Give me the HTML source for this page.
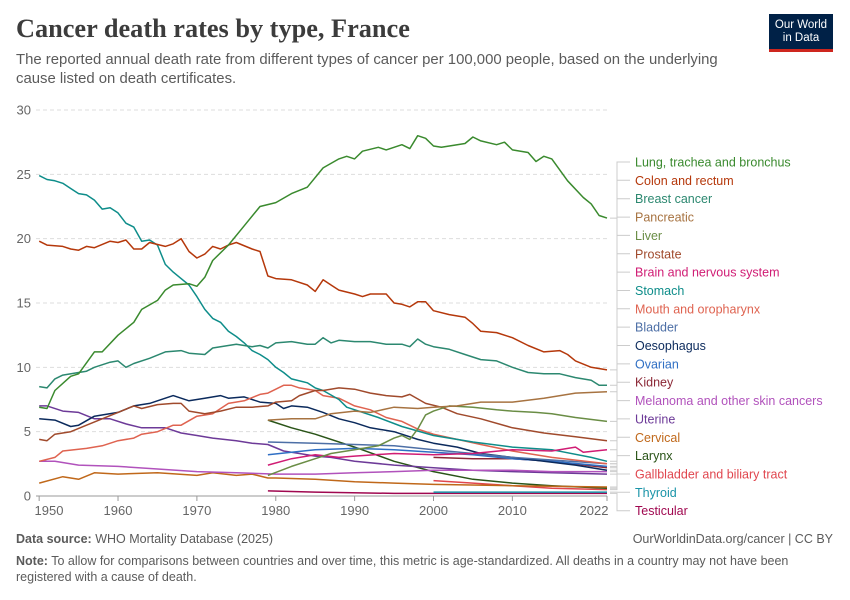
<!DOCTYPE html>
<html><head><meta charset="utf-8">
<style>
body{margin:0;background:#fff;font-family:"Liberation Sans",sans-serif;}
#wrap{position:relative;width:850px;height:600px;overflow:hidden;}
.t{position:absolute;white-space:nowrap;}
</style></head>
<body>
<div id="wrap">
<div class="t" style="left:16px;top:14px;font-family:'Liberation Serif',serif;font-size:26.3px;font-weight:bold;color:#3c3c3c;">Cancer death rates by type, France</div>
<div class="t" style="left:16px;top:51px;font-size:14.9px;line-height:19px;color:#5b5b5b;white-space:normal;width:730px;">The reported annual death rate from different types of cancer per 100,000 people, based on the underlying cause listed on death certificates.</div>
<div style="position:absolute;left:769px;top:14px;width:64px;height:38px;background:#002147;border-bottom:3px solid #ce261e;box-sizing:border-box;color:#fff;font-size:11.5px;line-height:13px;text-align:center;padding-top:5px;">Our World<br>in Data</div>
<svg id="chart" width="850" height="600" style="position:absolute;left:0;top:0;"></svg>
<div class="t" style="left:16px;top:532px;font-size:12.5px;color:#5b5b5b;"><b>Data source:</b> WHO Mortality Database (2025)</div>
<div class="t" style="right:17px;top:532px;font-size:12.5px;color:#5b5b5b;">OurWorldinData.org/cancer | CC BY</div>
<div class="t" style="left:16px;top:553px;width:800px;white-space:normal;font-size:12.5px;line-height:16px;color:#5b5b5b;"><b>Note:</b> To allow for comparisons between countries and over time, this metric is age-standardized. All deaths in a country may not have been registered with a cause of death.</div>
</div>
<script>
const yTicks=[0,5,10,15,20,25,30];
const xTicks=[1950,1960,1970,1980,1990,2000,2010,2022];
const seriesNames=["Lung, trachea and bronchus","Colon and rectum","Breast cancer","Pancreatic","Liver","Prostate","Brain and nervous system","Stomach","Mouth and oropharynx","Bladder","Oesophagus","Ovarian","Kidney","Melanoma and other skin cancers","Uterine","Cervical","Larynx","Gallbladder and biliary tract","Thyroid","Testicular"];
const seriesColors=["#3a8a2e","#b5380b","#2c8870","#a77341","#6a8d45","#a04a2c","#d01c74","#0e8d8a","#df6350","#4d6fa6","#0b2a5c","#2f6fc4","#8b2836","#b152bc","#6d3a98","#c0681a","#2a5418","#e0464e","#1a94a8","#a00850"];
const lung=[[1950,6.9],[1951,6.8],[1952,8.2],[1954,9.3],[1955,9.5],[1957,11.2],[1958,11.2],[1960,12.5],[1962,13.5],[1963,14.5],[1965,15.2],[1966,16],[1967,16.4],[1969,16.5],[1970,16.3],[1971,17],[1972,18.3],[1974,19.5],[1976,21],[1978,22.5],[1980,22.8],[1982,23.5],[1984,24],[1986,25.5],[1988,26.2],[1989,26.4],[1990,26.2],[1991,26.8],[1993,27.1],[1994,26.9],[1996,27.3],[1997,27.0],[1998,28.0],[1999,27.8],[2000,27.2],[2001,27.1],[2003,27.3],[2004,27.4],[2005,27.9],[2006,27.6],[2008,27.3],[2009,27.5],[2010,26.9],[2012,26.7],[2013,26.0],[2014,26.4],[2015,26.2],[2017,24.5],[2019,23.2],[2020,22.7],[2021,21.8],[2022,21.6]];
const colon=[[1950,19.8],[1951,19.5],[1953,19.4],[1954,19.2],[1955,19.1],[1956,19.4],[1957,19.3],[1959,19.8],[1960,19.7],[1961,19.9],[1962,19.2],[1963,19.2],[1964,19.7],[1966,19.4],[1967,19.6],[1968,20.0],[1969,19.0],[1970,18.5],[1971,18.8],[1972,19.4],[1973,19.2],[1974,19.5],[1975,19.7],[1977,19.2],[1978,19.0],[1979,17.1],[1980,16.9],[1982,16.8],[1984,16.4],[1985,15.9],[1986,16.8],[1987,16.4],[1988,16.0],[1990,15.7],[1991,15.5],[1992,15.7],[1994,15.7],[1995,15.0],[1996,14.9],[1997,14.7],[1998,15.1],[1999,15.1],[2000,14.4],[2002,14.1],[2004,13.9],[2005,13.4],[2006,12.8],[2008,12.7],[2010,12.3],[2012,11.7],[2014,11.2],[2016,11.3],[2017,11.0],[2018,10.5],[2020,10.0],[2022,9.8]];
const breast=[[1950,8.5],[1951,8.4],[1952,9.1],[1953,9.4],[1955,9.6],[1956,9.7],[1957,10.0],[1959,10.4],[1960,10.5],[1961,10.0],[1962,10.3],[1964,10.7],[1966,11.2],[1968,11.3],[1969,11.1],[1971,11.0],[1972,11.5],[1974,11.7],[1975,11.8],[1977,11.6],[1978,11.7],[1979,11.5],[1980,11.9],[1982,12.0],[1984,11.8],[1985,11.8],[1986,12.3],[1987,11.9],[1988,12.1],[1990,12.0],[1992,12.0],[1994,11.8],[1996,11.8],[1997,11.6],[1998,12.2],[1999,11.8],[2000,11.6],[2002,11.4],[2004,11.0],[2006,10.6],[2008,10.5],[2010,10.0],[2012,9.6],[2014,9.5],[2016,9.5],[2018,9.2],[2020,9.0],[2021,8.6],[2022,8.6]];
const pancreatic=[[1979,5.9],[1982,6.0],[1985,6.0],[1987,6.4],[1990,6.6],[1992,6.5],[1995,6.9],[1998,6.8],[2000,6.9],[2003,7.0],[2006,7.3],[2010,7.3],[2014,7.6],[2018,8.0],[2022,8.1]];
const liver=[[1979,1.6],[1982,2.3],[1985,2.9],[1987,3.3],[1990,3.6],[1993,3.9],[1995,4.5],[1996,4.7],[1997,4.4],[1998,5.2],[1999,6.3],[2000,6.6],[2002,7.0],[2005,6.9],[2008,6.7],[2010,6.6],[2013,6.5],[2015,6.4],[2018,6.1],[2022,5.8]];
const prostate=[[1950,4.4],[1951,4.3],[1952,4.8],[1954,5.0],[1956,5.5],[1958,6.0],[1960,6.5],[1962,7.0],[1963,6.8],[1965,7.1],[1967,7.2],[1968,7.2],[1969,6.6],[1971,6.4],[1973,6.6],[1975,6.9],[1977,6.9],[1979,7.0],[1980,7.3],[1982,7.4],[1983,7.8],[1985,8.2],[1986,8.2],[1988,8.4],[1990,8.3],[1992,8.0],[1994,7.8],[1996,7.7],[1997,7.9],[1999,7.2],[2001,6.9],[2003,6.4],[2006,6.0],[2010,5.3],[2014,4.9],[2018,4.6],[2022,4.3]];
const brain=[[1979,2.4],[1982,2.9],[1985,3.2],[1988,3.0],[1990,3.1],[1995,3.3],[2000,3.2],[2005,3.3],[2010,3.6],[2015,3.5],[2018,3.8],[2019,3.4],[2022,3.6]];
const stomach=[[1950,24.9],[1951,24.6],[1952,24.5],[1953,24.3],[1954,23.9],[1955,23.5],[1956,23.4],[1957,23.0],[1958,22.3],[1959,22.4],[1960,22.0],[1961,21.2],[1962,20.9],[1963,19.8],[1964,19.9],[1965,19.5],[1966,18.0],[1967,17.4],[1968,16.9],[1969,16.4],[1970,15.5],[1971,14.5],[1972,13.8],[1973,13.5],[1974,12.8],[1975,12.4],[1976,11.9],[1977,11.3],[1978,11.0],[1979,10.6],[1980,10.0],[1981,9.6],[1982,9.1],[1984,8.8],[1985,8.4],[1986,8.2],[1988,7.5],[1989,6.9],[1993,6.1],[1996,5.4],[2000,4.7],[2005,4.2],[2010,3.8],[2015,3.6],[2020,3.0],[2022,2.7]];
const mouth=[[1950,2.7],[1952,3.0],[1953,3.5],[1956,3.7],[1958,3.9],[1960,4.3],[1962,4.5],[1963,4.8],[1965,5.0],[1967,5.5],[1968,5.5],[1970,6.2],[1972,6.4],[1974,7.2],[1976,7.4],[1978,7.9],[1979,8.0],[1980,8.3],[1981,8.6],[1982,8.6],[1983,8.4],[1985,8.2],[1986,7.8],[1988,7.6],[1990,7.0],[1992,6.7],[1994,6.1],[1996,5.8],[1998,5.2],[2000,4.8],[2003,4.4],[2006,4.0],[2010,3.5],[2015,3.0],[2022,2.5]];
const bladder=[[1979,4.2],[1985,4.1],[1990,4.0],[1995,3.9],[2000,3.6],[2005,3.3],[2010,3.0],[2015,2.8],[2022,2.5]];
const oesophagus=[[1950,6.0],[1952,5.9],[1954,5.4],[1955,5.5],[1957,6.2],[1960,6.5],[1962,7.0],[1964,7.2],[1966,7.6],[1967,7.8],[1969,7.4],[1971,7.6],[1973,7.8],[1974,7.6],[1976,7.7],[1978,7.3],[1980,7.2],[1981,6.8],[1982,7.0],[1984,6.9],[1986,6.5],[1988,6.0],[1990,5.7],[1992,5.3],[1995,5.0],[1998,4.4],[2000,4.1],[2003,3.8],[2006,3.3],[2010,3.0],[2014,2.7],[2018,2.4],[2022,2.0]];
const ovarian=[[1979,3.2],[1985,3.6],[1990,3.7],[1995,3.6],[2000,3.4],[2005,3.2],[2010,2.9],[2015,2.7],[2022,2.3]];
const kidney=[[2000,3.0],[2005,2.9],[2010,2.9],[2015,2.7],[2022,2.2]];
const melanoma=[[1950,2.7],[1952,2.7],[1955,2.4],[1960,2.3],[1965,2.1],[1970,1.9],[1975,1.8],[1980,1.7],[1985,1.7],[1990,1.8],[1995,1.9],[2000,2.0],[2005,2.0],[2010,2.0],[2015,1.9],[2022,1.9]];
const uterine=[[1950,7.0],[1951,7.0],[1953,6.6],[1955,6.5],[1957,6.0],[1959,6.0],[1961,5.6],[1963,5.3],[1966,5.3],[1968,4.9],[1970,4.7],[1972,4.5],[1975,4.3],[1977,4.1],[1979,4.0],[1981,3.5],[1983,3.3],[1985,3.1],[1987,3.0],[1990,2.7],[1995,2.4],[2000,2.2],[2005,2.0],[2010,1.9],[2015,1.8],[2022,1.7]];
const cervical=[[1950,1.0],[1953,1.5],[1955,1.3],[1957,1.8],[1960,1.7],[1965,1.8],[1970,1.6],[1972,1.8],[1975,1.6],[1977,1.7],[1979,1.4],[1980,1.4],[1985,1.3],[1990,1.1],[1995,1.0],[2000,0.9],[2010,0.8],[2022,0.7]];
const larynx=[[1979,5.9],[1982,5.3],[1985,4.8],[1990,3.8],[1995,2.7],[2000,1.9],[2005,1.3],[2010,1.0],[2015,0.8],[2022,0.6]];
const gallbladder=[[2000,1.2],[2005,1.0],[2010,0.8],[2015,0.6],[2022,0.5]];
const thyroid=[[2000,0.3],[2010,0.3],[2022,0.3]];
const testicular=[[1979,0.4],[1985,0.3],[1995,0.2],[2022,0.2]];
const allSeries=[lung,colon,breast,pancreatic,liver,prostate,brain,stomach,mouth,bladder,oesophagus,ovarian,kidney,melanoma,uterine,cervical,larynx,gallbladder,thyroid,testicular];

const NS="http://www.w3.org/2000/svg";
const svg=document.getElementById('chart');
const X0=36,X1=607,Y0=496,Y1=110,YR0=1949.6,YR1=2022,VMAX=30;
function xs(yr){return X0+(yr-YR0)/(YR1-YR0)*(X1-X0);}
function ys(v){return Y0-v/VMAX*(Y0-Y1);}
function mk(tag,attrs){const e=document.createElementNS(NS,tag);for(const k in attrs)e.setAttribute(k,attrs[k]);svg.appendChild(e);return e;}

yTicks.forEach(t=>{
  if(t>0){const g=mk('line',{x1:X0,x2:X1,y1:ys(t),y2:ys(t),stroke:'#ddd','stroke-dasharray':'4,3'});
  
  }
  const l=mk('text',{x:31,y:ys(t)+4.5,'text-anchor':'end','font-size':13,fill:'#666','font-family':'Liberation Sans, sans-serif'});
  l.textContent=t;
  
  
});
const ax=mk('line',{x1:X0,x2:X1,y1:Y0,y2:Y0,stroke:'#999'});


xTicks.forEach(t=>{
  const tk=mk('line',{x1:xs(t),x2:xs(t),y1:Y0,y2:Y0+5,stroke:'#999'});
  
  
  let lx=xs(t); if(t===1950)lx=Math.max(lx,49); if(t===2022)lx=Math.min(lx,594);
  const l=mk('text',{x:lx,y:515,'text-anchor':'middle','font-size':13,fill:'#666','font-family':'Liberation Sans, sans-serif'});
  l.textContent=t;
  
  
});
for(let i=allSeries.length-1;i>=0;i--){
  const d=allSeries[i].map(p=>xs(p[0]).toFixed(1)+','+ys(p[1]).toFixed(1)).join(' ');
  const pl=mk('polyline',{points:d,fill:'none',stroke:seriesColors[i],'stroke-width':1.5,'stroke-linejoin':'round'});
  
  
}
seriesNames.forEach((n,i)=>{
  const ly=162+i*18.35;
  const s=allSeries[i];const last=s[s.length-1];
  const ye=ys(last[1]);
  const c=mk('path',{d:`M${X1+3},${ye.toFixed(1)} H617 V${ly.toFixed(1)} H630`,fill:'none',stroke:'#ccc','stroke-width':1});
  
  
  const t=mk('text',{x:635,y:ly+4.5,'font-size':12.5,fill:seriesColors[i],'font-family':'Liberation Sans, sans-serif'});
  t.textContent=n;
  
  
});
</script>
</body></html>
